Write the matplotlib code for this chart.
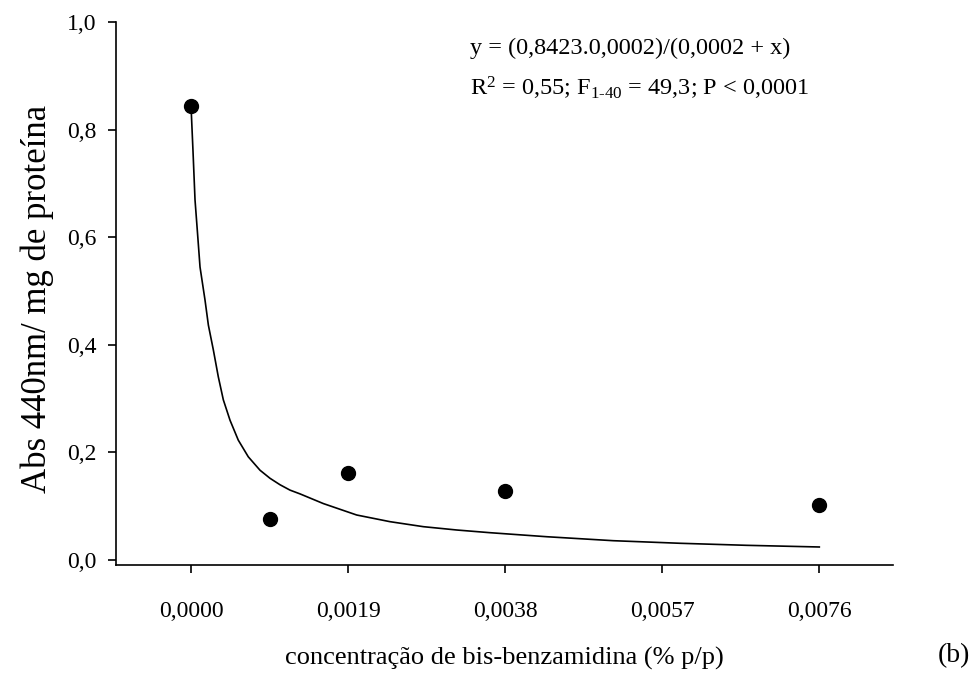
import matplotlib
matplotlib.use("Agg")
import matplotlib.pyplot as plt

plt.rcParams['font.family'] = ['Liberation Serif', 'DejaVu Serif']
plt.rcParams['mathtext.fontset'] = 'custom'
plt.rcParams['mathtext.rm'] = 'Liberation Serif'
plt.rcParams['mathtext.it'] = 'Liberation Serif'

# pontos medidos
conc = [0.0, 0.00095, 0.0019, 0.0038, 0.0076]
absorb = [0.845, 0.076, 0.162, 0.128, 0.102]

# curva ajustada
curve_x = [0.0, 0.0000242, 0.0000484, 0.0000787, 0.000109, 0.000169, 0.000210,
           0.000270, 0.000330, 0.000391, 0.000472, 0.000572, 0.000693,
           0.000835, 0.000956, 0.001077, 0.001198, 0.001319, 0.001601,
           0.002005, 0.002408, 0.002811, 0.003216, 0.003618, 0.004305,
           0.005111, 0.005918, 0.006725, 0.007604]
curve_y = [0.845, 0.760, 0.670, 0.608, 0.545, 0.484, 0.437,
           0.391, 0.341, 0.298, 0.260, 0.223, 0.192,
           0.167, 0.152, 0.140, 0.130, 0.123, 0.105,
           0.0837, 0.0713, 0.0620, 0.0558, 0.0508, 0.0433,
           0.0359, 0.0311, 0.0273, 0.0242]

xticks = [0.0, 0.0019, 0.0038, 0.0057, 0.0076]
xticklabels = ['0,0000', '0,0019', '0,0038', '0,0057', '0,0076']
yticks = [0.0, 0.2, 0.4, 0.6, 0.8, 1.0]
yticklabels = ['0,0', '0,2', '0,4', '0,6', '0,8', '1,0']

fig = plt.figure(figsize=(9.78, 6.79), dpi=100)
ax = fig.add_axes([0.1186, 0.1679, 0.7945, 0.799])

ax.plot(curve_x, curve_y, color='black', lw=1.2, solid_joinstyle='round')
ax.plot(conc, absorb, 'o', color='black', markersize=10)

ax.set_xlim(-0.000908, 0.008496)
ax.set_ylim(-0.0093, 1.0)
ax.set_xticks(xticks)
ax.set_xticklabels(xticklabels)
ax.set_yticks(yticks)
ax.set_yticklabels(yticklabels)

ax.spines['top'].set_visible(False)
ax.spines['right'].set_visible(False)
for s in ['left', 'bottom']:
    ax.spines[s].set_linewidth(1.2)
ax.tick_params(direction='out', length=6, width=1.2, labelsize=17)
ax.tick_params(axis='x', pad=20)
ax.tick_params(axis='y', pad=8)

ax.set_xlabel('concentração de bis-benzamidina (% p/p)', fontsize=19, labelpad=18)
ax.set_ylabel('Abs 440nm/ mg de proteína', fontsize=25)
ax.yaxis.set_label_coords(-0.08, 0.49)

ax.text(0.456, 0.952, 'y = (0,8423.0,0002)/(0,0002 + x)', transform=ax.transAxes,
        fontsize=17.5, va='center', ha='left')
ax.text(0.456, 0.878, r'R$^{2}$ = 0,55; F$_{1\text{-}40}$ = 49,3; P < 0,0001',
        transform=ax.transAxes, fontsize=17.5, va='center', ha='left')

fig.text(954 / 978, 1 - 656 / 679, '(b)', fontsize=20, ha='center', va='center')

fig.savefig('out.png', dpi=100)
